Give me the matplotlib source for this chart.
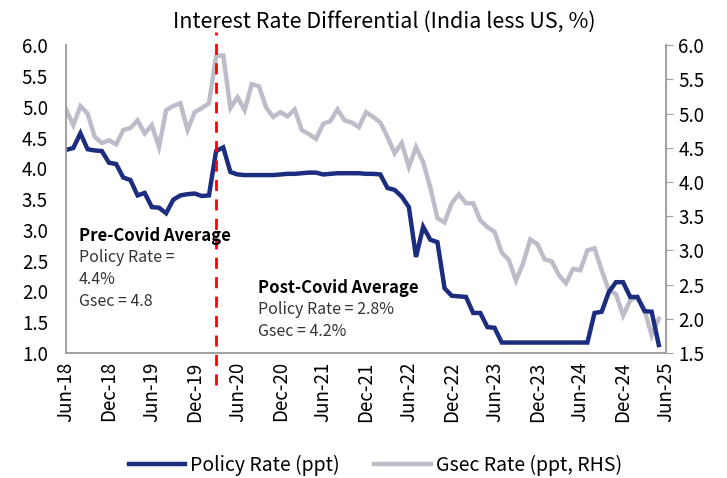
import numpy as np
import matplotlib.pyplot as plt
from matplotlib.lines import Line2D

plt.rcParams['font.family'] = ['Noto Sans CJK KR', 'DejaVu Sans']

# monthly, Jun-18 .. May-25
policy = [4.30, 4.33, 4.57, 4.31, 4.29, 4.28, 4.09, 4.07, 3.85, 3.81,
          3.56, 3.60, 3.37, 3.36, 3.27, 3.49, 3.56, 3.58, 3.59, 3.55,
          3.56, 4.28, 4.34, 3.94, 3.90, 3.89, 3.89, 3.89, 3.89, 3.89,
          3.90, 3.91, 3.91, 3.92, 3.93, 3.93, 3.90, 3.91, 3.92, 3.92,
          3.92, 3.92, 3.91, 3.91, 3.90, 3.68, 3.65, 3.54, 3.37, 2.56,
          3.05, 2.84, 2.80, 2.05, 1.93, 1.92, 1.91, 1.65, 1.65, 1.42,
          1.41, 1.17, 1.17, 1.17, 1.17, 1.17, 1.17, 1.17, 1.17, 1.17,
          1.17, 1.17, 1.17, 1.17, 1.65, 1.67, 1.99, 2.15, 2.15, 1.91,
          1.91, 1.68, 1.67, 1.13]
gsec = [5.06, 4.83, 5.11, 5.00, 4.66, 4.57, 4.61, 4.55, 4.76, 4.79,
        4.90, 4.71, 4.83, 4.51, 5.05, 5.11, 5.15, 4.76, 5.02, 5.08,
        5.15, 5.84, 5.85, 5.08, 5.24, 5.05, 5.43, 5.40, 5.09, 4.95,
        5.02, 4.96, 5.06, 4.76, 4.70, 4.63, 4.85, 4.89, 5.06, 4.90,
        4.87, 4.80, 5.02, 4.95, 4.87, 4.66, 4.42, 4.57, 4.22, 4.51,
        4.29, 3.92, 3.47, 3.41, 3.69, 3.82, 3.69, 3.69, 3.44, 3.34,
        3.27, 2.97, 2.86, 2.56, 2.81, 3.16, 3.09, 2.87, 2.84, 2.64,
        2.52, 2.73, 2.71, 3.00, 3.03, 2.71, 2.42, 2.36, 2.05, 2.27,
        2.32, 2.13, 1.76, 2.00]
tick_labels = ['Jun-18', 'Dec-18', 'Jun-19', 'Dec-19', 'Jun-20', 'Dec-20',
               'Jun-21', 'Dec-21', 'Jun-22', 'Dec-22', 'Jun-23', 'Dec-23',
               'Jun-24', 'Dec-24', 'Jun-25']
covid_month = 21  # Mar-20

navy = '#1C2D80'
grey = '#BDBDC9'
spine_col = '#A0A0A0'

fig = plt.figure(figsize=(7.27, 4.78), dpi=100)
ax = fig.add_axes([0.091, 0.2615, 0.825, 0.644])
ax2 = ax.twinx()

x = np.arange(len(policy))
ax2.plot(x, gsec, color=grey, lw=3.2, solid_joinstyle='miter')
ax.plot(x, policy, color=navy, lw=3.2, solid_joinstyle='miter')
ax.set_zorder(ax2.get_zorder() + 1)
ax.patch.set_visible(False)

ax.set_xlim(0, 84)
ax.set_ylim(1.0, 6.0)
ax2.set_ylim(1.5, 6.0)
ax.set_yticks(np.arange(1.0, 6.01, 0.5))
ax2.set_yticks(np.arange(1.5, 6.01, 0.5))
ax.set_yticklabels([f'{v:.1f}' for v in np.arange(1.0, 6.01, 0.5)])
ax2.set_yticklabels([f'{v:.1f}' for v in np.arange(1.5, 6.01, 0.5)])
ax.set_xticks(np.arange(0, 85, 6))
ax.set_xticklabels(tick_labels, rotation=90)

for a in (ax, ax2):
    a.spines['top'].set_visible(False)
    for s in ('left', 'right', 'bottom'):
        a.spines[s].set_color(spine_col)
        a.spines[s].set_linewidth(1.2)
ax.tick_params(axis='y', length=0, labelsize=13.5, pad=13)
ax.tick_params(axis='x', length=0, labelsize=13.5, pad=6)
ax2.tick_params(axis='y', length=5, color=spine_col, labelsize=13.5, pad=4)

# covid marker
ax.plot([covid_month, covid_month], [-0.104, 1.042], color='red', lw=2,
        ls=(0, (4, 3)), transform=ax.get_xaxis_transform(), clip_on=False)

fig.text(0.529, 0.955, 'Interest Rate Differential (India less US, %)',
         ha='center', va='center', fontsize=15.5)

ax.text(1.8, 2.9, 'Pre-Covid Average', fontsize=12, fontweight='bold', va='center')
ax.text(1.8, 2.55, 'Policy Rate =', fontsize=11.5, va='center', color='#333333')
ax.text(1.8, 2.2, '4.4%', fontsize=11.5, va='center', color='#333333')
ax.text(1.8, 1.83, 'Gsec = 4.8', fontsize=11.5, va='center', color='#333333')
ax.text(26.9, 2.05, 'Post-Covid Average', fontsize=12, fontweight='bold', va='center')
ax.text(26.9, 1.7, 'Policy Rate = 2.8%', fontsize=11.5, va='center', color='#333333')
ax.text(26.9, 1.35, 'Gsec = 4.2%', fontsize=11.5, va='center', color='#333333')

handles = [Line2D([], [], color=navy, lw=3.2), Line2D([], [], color=grey, lw=3.2)]
fig.legend(handles, ['Policy Rate (ppt)', 'Gsec Rate (ppt, RHS)'],
           loc='center', bbox_to_anchor=(0.516, 0.027), ncol=2, frameon=False,
           fontsize=14, handlelength=2.9, handletextpad=0.25, columnspacing=1.8)

fig.savefig('out.png', dpi=100)
